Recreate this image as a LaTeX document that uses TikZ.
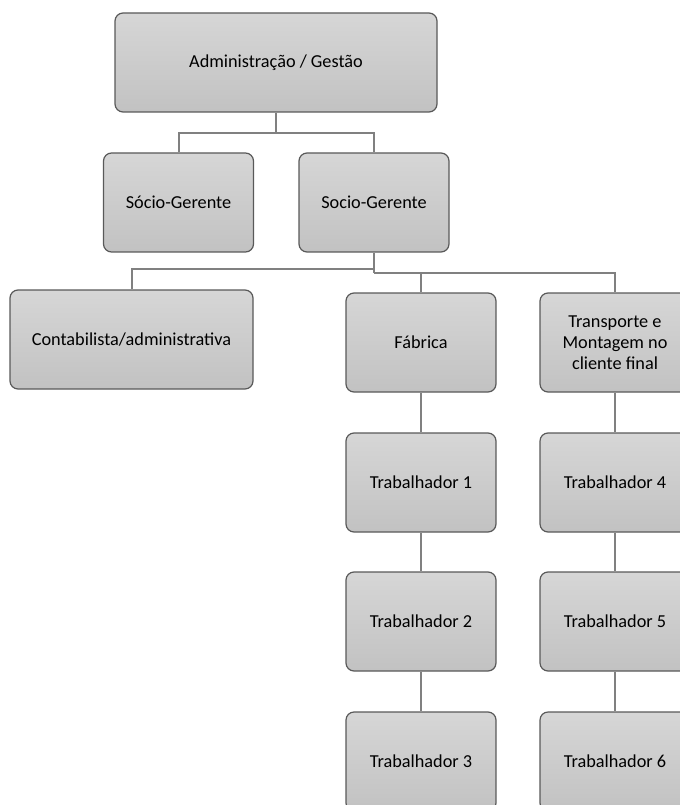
\documentclass[tikz,border=0pt]{standalone}
\usepackage{fontspec}
\setmainfont{Carlito}
\usetikzlibrary{positioning}

\begin{document}
\begin{tikzpicture}[
     x = 0.75pt,
     y = -0.75pt,
     font = \fontsize{13.7}{15.8}\selectfont
    ]
    \tikzstyle{unit}=[draw=black!65, line width=0.9pt, rounded corners=6pt,
      top color=black!16, bottom color=black!24, align=center,
      minimum width=112.5pt, minimum height=74.25pt, inner sep=2pt]
    \tikzstyle{link}=[draw=black!50, line width=1.5pt]

    \useasboundingbox (0,0) rectangle (680,805);
    \clip (0,0) rectangle (680,805);

    % levels
    \node[unit, minimum width=241.5pt] (adm) at (276,62.5) {Administração / Gestão};
    \node[unit] (socio1) at (178.5,202.5) {Sócio-Gerente};
    \node[unit] (socio2) at (374,202.5) {Socio-Gerente};
    \node[unit, minimum width=182.25pt] (conta) at (131.5,339.5) {Contabilista/administrativa};
    \node[unit] (fabrica) at (421,342.5) {Fábrica};
    \node[unit] (transp) at (615,342.5) {Transporte e\\Montagem no\\cliente final};

    \node[unit] (trab1) at (421,482.5) {Trabalhador 1};
    \node[unit] (trab2) at (421,621.5) {Trabalhador 2};
    \node[unit] (trab3) at (421,761.5) {Trabalhador 3};
    \node[unit] (trab4) at (615,482.5) {Trabalhador 4};
    \node[unit] (trab5) at (615,621.5) {Trabalhador 5};
    \node[unit] (trab6) at (615,761.5) {Trabalhador 6};

    % connectors
    \coordinate (j1) at (276,133);
    \coordinate (j2) at (374,269);
    \coordinate (j3) at (374,273);
    \draw[link] (adm.south) -- (j1);
    \draw[link] (socio1.north) |- (j1) -| (socio2.north);
    \draw[link] (socio2.south) -- (j3);
    \draw[link] (conta.north) |- (j2);
    \draw[link] (fabrica.north) |- (j3) -| (transp.north);
    \draw[link] (fabrica) -- (trab1) -- (trab2) -- (trab3);
    \draw[link] (transp) -- (trab4) -- (trab5) -- (trab6);
\end{tikzpicture}
\end{document}
